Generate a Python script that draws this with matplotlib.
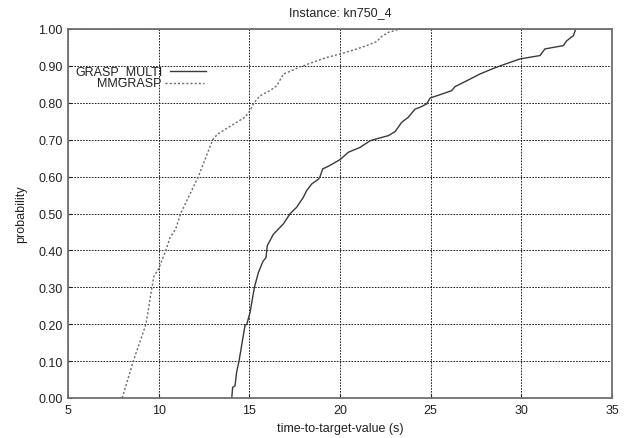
import matplotlib
matplotlib.use("Agg")
import matplotlib.pyplot as plt

plt.rcParams['font.family'] = ['Liberation Sans', 'DejaVu Sans']

title = "Instance: kn750_4"
xlabel = "time-to-target-value (s)"
ylabel = "probability"

# GRASP_MULTI (solid)
gm_t = [14.03, 14.08, 14.21, 14.30, 14.43, 14.76, 14.86, 15.04, 15.28, 15.50, 15.74,
        15.92, 15.99, 16.33, 16.88, 17.24, 17.61, 17.98, 18.16, 18.44, 18.81, 18.90,
        19.05, 19.36, 20.00, 20.46, 21.10, 21.66, 21.84, 22.67, 23.04, 23.40, 23.77,
        24.14, 24.42, 24.78, 24.97, 25.52, 26.16, 26.35, 27.00, 27.72, 28.30, 28.83,
        29.93, 31.03, 31.30, 32.32, 32.50, 32.87, 33.00]
gm_p = [0.000, 0.029, 0.033, 0.070, 0.100, 0.196, 0.200, 0.232, 0.300, 0.340, 0.369,
        0.381, 0.413, 0.444, 0.472, 0.499, 0.517, 0.544, 0.562, 0.580, 0.593, 0.600,
        0.621, 0.628, 0.646, 0.666, 0.679, 0.697, 0.700, 0.711, 0.722, 0.747, 0.761,
        0.783, 0.788, 0.797, 0.813, 0.822, 0.833, 0.844, 0.860, 0.878, 0.890, 0.900,
        0.919, 0.928, 0.946, 0.955, 0.968, 0.982, 1.000]

# MMGRASP (dotted)
mm_t = [7.99, 8.60, 9.30, 9.63, 9.74, 10.00, 10.39, 10.63, 10.94, 11.21, 12.19,
        12.98, 13.24, 14.76, 15.04, 15.26, 15.59, 16.14, 16.51, 16.88, 17.43, 17.80,
        17.98, 18.35, 19.27, 20.00, 20.74, 21.47, 22.03, 22.30, 22.67, 23.31]
mm_p = [0.000, 0.100, 0.200, 0.300, 0.330, 0.350, 0.400, 0.435, 0.458, 0.500, 0.600,
        0.700, 0.715, 0.761, 0.779, 0.800, 0.819, 0.833, 0.846, 0.878, 0.889, 0.898,
        0.900, 0.907, 0.923, 0.932, 0.943, 0.955, 0.966, 0.980, 0.991, 1.000]

xticks = [5, 10, 15, 20, 25, 30, 35]
yticks = [0.0, 0.1, 0.2, 0.3, 0.4, 0.5, 0.6, 0.7, 0.8, 0.9, 1.0]

FS = 9

fig = plt.figure(figsize=(6.26, 4.39), dpi=100)
ax = fig.add_axes([68/626, 40/439, 544/626, 369/439])

ax.plot(gm_t, gm_p, color='#3a3a3a', lw=1.0, ls='-', label='GRASP_MULTI')
ax.plot(mm_t, mm_p, color='#6a6a6a', lw=1.0, ls=(0, (1.5, 1.5)), label='MMGRASP')

ax.set_xlim(5, 35)
ax.set_ylim(0, 1)
ax.set_xticks(xticks)
ax.set_xticklabels([str(v) for v in xticks])
ax.set_yticks(yticks)
ax.set_yticklabels([f"{v:.2f}" for v in yticks])
ax.grid(True, color='black', ls=(0, (2, 1.5)), lw=0.6)
ax.tick_params(direction='in', length=3, labelsize=FS, colors='#222222', pad=4)
for s in ax.spines.values():
    s.set_color('#707070')
    s.set_linewidth(1.3)

ax.set_title(title, fontsize=FS, pad=10, color='#222222')
ax.set_xlabel(xlabel, fontsize=FS, labelpad=5, color='#222222')
ax.set_ylabel(ylabel, fontsize=FS, labelpad=8, color='#222222')

# legend drawn gnuplot-style: right-aligned text then sample line
fig.text(163/626, 1 - 72/439, 'GRASP_MULTI', ha='right', va='center', fontsize=FS, color='#222222')
fig.text(162/626, 1 - 84/439, 'MMGRASP', ha='right', va='center', fontsize=FS, color='#222222')
fig.add_artist(plt.Line2D([170/626, 206/626], [1 - 72/439, 1 - 72/439], color='#3a3a3a', lw=1.0))
fig.add_artist(plt.Line2D([165/626, 204/626], [1 - 84/439, 1 - 84/439], color='#6a6a6a', lw=1.0, ls=(0, (1.5, 1.5))))

fig.savefig('out.png', dpi=100)
